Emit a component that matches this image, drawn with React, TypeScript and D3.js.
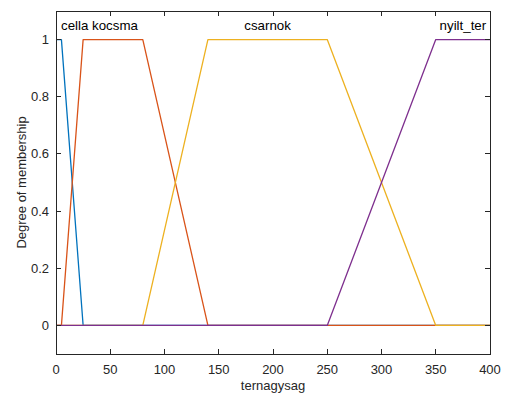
import React from "react";
import * as d3 from "d3";

const mfNames = ["cella", "kocsma", "csarnok", "nyilt_ter"];
const mfColors = ["#0072BD", "#D95319", "#EDB120", "#7E2F8E"];
const cellaX = [0, 5, 25, 400];
const cellaY = [1, 1, 0, 0];
const kocsmaX = [0, 5, 25, 80, 140, 400];
const kocsmaY = [0, 0, 1, 1, 0, 0];
const csarnokX = [0, 80, 140, 250, 350, 400];
const csarnokY = [0, 0, 1, 1, 0, 0];
const nyiltX = [0, 250, 350, 400];
const nyiltY = [0, 0, 1, 1];
const xTicks = [0, 50, 100, 150, 200, 250, 300, 350, 400];
const yTicks = [0, 0.2, 0.4, 0.6, 0.8, 1];

const W = 506, H = 396;
const L = 56, R = 490, T = 11, B = 354;

export default function App() {
  const x = d3.scaleLinear().domain([0, 400]).range([L, R]);
  const y = d3.scaleLinear().domain([-0.1, 1.1]).range([B, T]);
  const series = [
    [cellaX, cellaY],
    [kocsmaX, kocsmaY],
    [csarnokX, csarnokY],
    [nyiltX, nyiltY],
  ];
  const line = d3.line<[number, number]>().x((d) => x(d[0])).y((d) => y(d[1]));
  const axisColor = "#262626";
  const font = "Arial, 'Liberation Sans', Helvetica, sans-serif";
  const tl = 5;
  return (
    <svg width={W} height={H} style={{ position: "absolute", left: 0, top: 0, background: "#fff" }}>
      <rect x={0} y={0} width={W} height={H} fill="#fff" />
      <rect x={L} y={T} width={R - L} height={B - T} fill="#fff" />
      {series.map(([xs, ys], i) => (
        <path
          key={i}
          d={line(xs.map((v, j) => [v, ys[j]] as [number, number])) || ""}
          fill="none"
          stroke={mfColors[i]}
          strokeWidth={1.3}
          strokeLinejoin="round"
        />
      ))}
      <rect x={L} y={T} width={R - L} height={B - T} fill="none" stroke={axisColor} strokeWidth={1} shapeRendering="crispEdges" />
      {xTicks.map((t) => (
        <g key={"x" + t}>
          <line x1={x(t)} x2={x(t)} y1={B} y2={B - tl} stroke={axisColor} shapeRendering="crispEdges" />
          <line x1={x(t)} x2={x(t)} y1={T} y2={T + tl} stroke={axisColor} shapeRendering="crispEdges" />
          <text x={x(t)} y={B + 20} textAnchor="middle" fontSize={13} fontFamily={font} fill={axisColor}>{t}</text>
        </g>
      ))}
      {yTicks.map((t) => (
        <g key={"y" + t}>
          <line x1={L} x2={L + tl} y1={y(t)} y2={y(t)} stroke={axisColor} shapeRendering="crispEdges" />
          <line x1={R} x2={R - tl} y1={y(t)} y2={y(t)} stroke={axisColor} shapeRendering="crispEdges" />
          <text x={L - 7} y={y(t) + 4.5} textAnchor="end" fontSize={13} fontFamily={font} fill={axisColor}>{String(t)}</text>
        </g>
      ))}
      <text x={x(0) + 5} y={30} fontSize={13.3} fontFamily={font} fill="#000">{mfNames[0] + " " + mfNames[1]}</text>
      <text x={x(195)} y={30} textAnchor="middle" fontSize={13.3} fontFamily={font} fill="#000">{mfNames[2]}</text>
      <text x={x(375)} y={30} textAnchor="middle" fontSize={13.3} fontFamily={font} fill="#000">{mfNames[3]}</text>
      <text x={(L + R) / 2} y={390} textAnchor="middle" fontSize={13} fontFamily={font} fill={axisColor}>ternagysag</text>
      <text transform={`translate(26,${(T + B) / 2}) rotate(-90)`} textAnchor="middle" fontSize={13} fontFamily={font} fill={axisColor}>Degree of membership</text>
    </svg>
  );
}
